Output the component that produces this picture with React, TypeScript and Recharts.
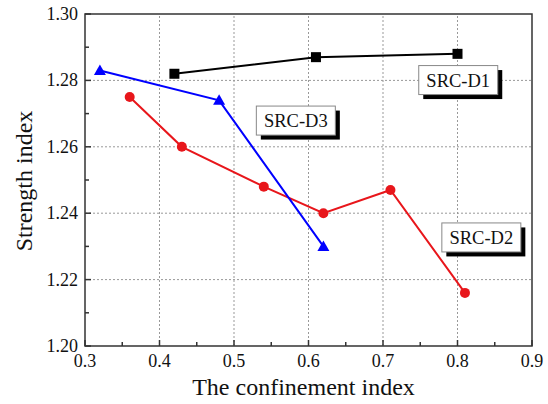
import React from 'react';
import {
  LineChart,
  Line,
  XAxis,
  YAxis,
  ReferenceLine,
  ReferenceArea,
  ReferenceDot,
  Label
} from 'recharts';

const xTicks = [0.3, 0.35, 0.4, 0.45, 0.5, 0.55, 0.6, 0.65, 0.7, 0.75, 0.8, 0.85, 0.9];
const xMajor = [0.3, 0.4, 0.5, 0.6, 0.7, 0.8, 0.9];
const yTicks = [1.2, 1.21, 1.22, 1.23, 1.24, 1.25, 1.26, 1.27, 1.28, 1.29, 1.3];
const yMajor = [1.2, 1.22, 1.24, 1.26, 1.28, 1.3];

const d1 = [
  { x: 0.42, y: 1.282 },
  { x: 0.61, y: 1.287 },
  { x: 0.8, y: 1.288 },
];
const d2 = [
  { x: 0.36, y: 1.275 },
  { x: 0.43, y: 1.26 },
  { x: 0.54, y: 1.248 },
  { x: 0.62, y: 1.24 },
  { x: 0.71, y: 1.247 },
  { x: 0.81, y: 1.216 },
];
const d3 = [
  { x: 0.32, y: 1.283 },
  { x: 0.48, y: 1.274 },
  { x: 0.62, y: 1.23 },
];

// label boxes anchored in data space
const tags = [
  { name: 'SRC-D1', x: 0.801, y: 1.2801 },
  { name: 'SRC-D3', x: 0.583, y: 1.2679 },
  { name: 'SRC-D2', x: 0.832, y: 1.2327 },
];

const FONT = '"Liberation Serif", "Times New Roman", serif';
const isMajor = (v: number, list: number[]) => list.some((m) => Math.abs(m - v) < 1e-6);

const XTick = (props: any) => {
  const { x, y, payload } = props;
  const major = isMajor(payload.value, xMajor);
  return (
    <g>
      <line x1={x} x2={x} y1={y} y2={y - (major ? 6 : 4)} stroke="#333" strokeWidth={1.5} />
      {major && (
        <text x={x} y={y + 21} textAnchor="middle" fontFamily={FONT} fontSize={18} fill="#111">
          {payload.value.toFixed(1)}
        </text>
      )}
    </g>
  );
};

const YTick = (props: any) => {
  const { x, y, payload } = props;
  const major = isMajor(payload.value, yMajor);
  return (
    <g>
      <line x1={x} x2={x + (major ? 6 : 4)} y1={y} y2={y} stroke="#333" strokeWidth={1.5} />
      {major && (
        <text x={x - 7} y={y + 6} textAnchor="end" fontFamily={FONT} fontSize={18} fill="#111">
          {payload.value.toFixed(2)}
        </text>
      )}
    </g>
  );
};

const Square = (props: any) => {
  const { cx, cy, index } = props;
  return <rect key={index} x={cx - 5} y={cy - 5} width={10} height={10} fill="#000" />;
};

const Triangle = (props: any) => {
  const { cx, cy, index } = props;
  return (
    <polygon
      key={index}
      points={`${cx},${cy - 6} ${cx - 6},${cy + 4.5} ${cx + 6},${cy + 4.5}`}
      fill="#0000ff"
    />
  );
};

const TagBox = (name: string) => (props: any) => {
  const { cx, cy } = props;
  const w = 79;
  const h = 29;
  return (
    <g>
      <rect x={cx - w / 2 + 4.5} y={cy - h / 2 + 4.5} width={w} height={h} fill="#000" />
      <rect x={cx - w / 2} y={cy - h / 2} width={w} height={h} fill="#fff" stroke="#888" strokeWidth={1} />
      <text x={cx} y={cy + 6.5} textAnchor="middle" fontFamily={FONT} fontSize={18.5} fill="#111">
        {name}
      </text>
    </g>
  );
};

const XTitle = (props: any) => {
  const { x, y, width } = props.viewBox;
  return (
    <text x={x + width / 2 - 5} y={y + 49} textAnchor="middle" fontFamily={FONT} fontSize={24} fill="#111">
      The confinement index
    </text>
  );
};

const YTitle = (props: any) => {
  const { x, y, height } = props.viewBox;
  const cx = x + 32;
  const cy = y + height / 2 + 1;
  return (
    <text
      x={cx}
      y={cy}
      transform={`rotate(-90, ${cx}, ${cy})`}
      textAnchor="middle"
      fontFamily={FONT}
      fontSize={24}
      fill="#111"
    >
      Strength index
    </text>
  );
};

export default function App() {
  return (
    <div style={{ position: 'absolute', left: 0, top: 0, background: '#fff' }}>
      <LineChart width={548} height={404} margin={{ top: 14, right: 16, left: 0, bottom: 0 }}>
        <XAxis
          type="number"
          dataKey="x"
          domain={[0.3, 0.9]}
          ticks={xTicks}
          tick={<XTick />}
          tickSize={0}
          tickMargin={0}
          tickLine={false}
          axisLine={false}
          height={58}
          interval={0}
          allowDataOverflow
        >
          <Label content={<XTitle />} />
        </XAxis>
        <YAxis
          type="number"
          dataKey="y"
          domain={[1.2, 1.3]}
          ticks={yTicks}
          tick={<YTick />}
          tickSize={0}
          tickMargin={0}
          tickLine={false}
          axisLine={false}
          width={85}
          interval={0}
          allowDataOverflow
        >
          <Label content={<YTitle />} />
        </YAxis>
        {xMajor.slice(1, -1).map((v) => (
          <ReferenceLine key={'gx' + v} x={v} stroke="#999" strokeDasharray="2 2" strokeWidth={1} />
        ))}
        {yMajor.slice(1, -1).map((v) => (
          <ReferenceLine key={'gy' + v} y={v} stroke="#999" strokeDasharray="2 2" strokeWidth={1} />
        ))}
        <ReferenceArea x1={0.3} x2={0.9} y1={1.2} y2={1.3} fill="none" stroke="#333" strokeWidth={1.5} />
        <Line
          data={d1}
          dataKey="y"
          stroke="#000"
          strokeWidth={2}
          dot={<Square />}
          isAnimationActive={false}
        />
        <Line
          data={d2}
          dataKey="y"
          stroke="#e8161b"
          strokeWidth={2}
          dot={{ r: 5, fill: '#e8161b', stroke: '#e8161b', strokeWidth: 0 }}
          isAnimationActive={false}
        />
        <Line
          data={d3}
          dataKey="y"
          stroke="#0000ff"
          strokeWidth={2}
          dot={<Triangle />}
          isAnimationActive={false}
        />
        {tags.map((t) => (
          <ReferenceDot key={t.name} x={t.x} y={t.y} r={0} shape={TagBox(t.name)} />
        ))}
      </LineChart>
    </div>
  );
}
